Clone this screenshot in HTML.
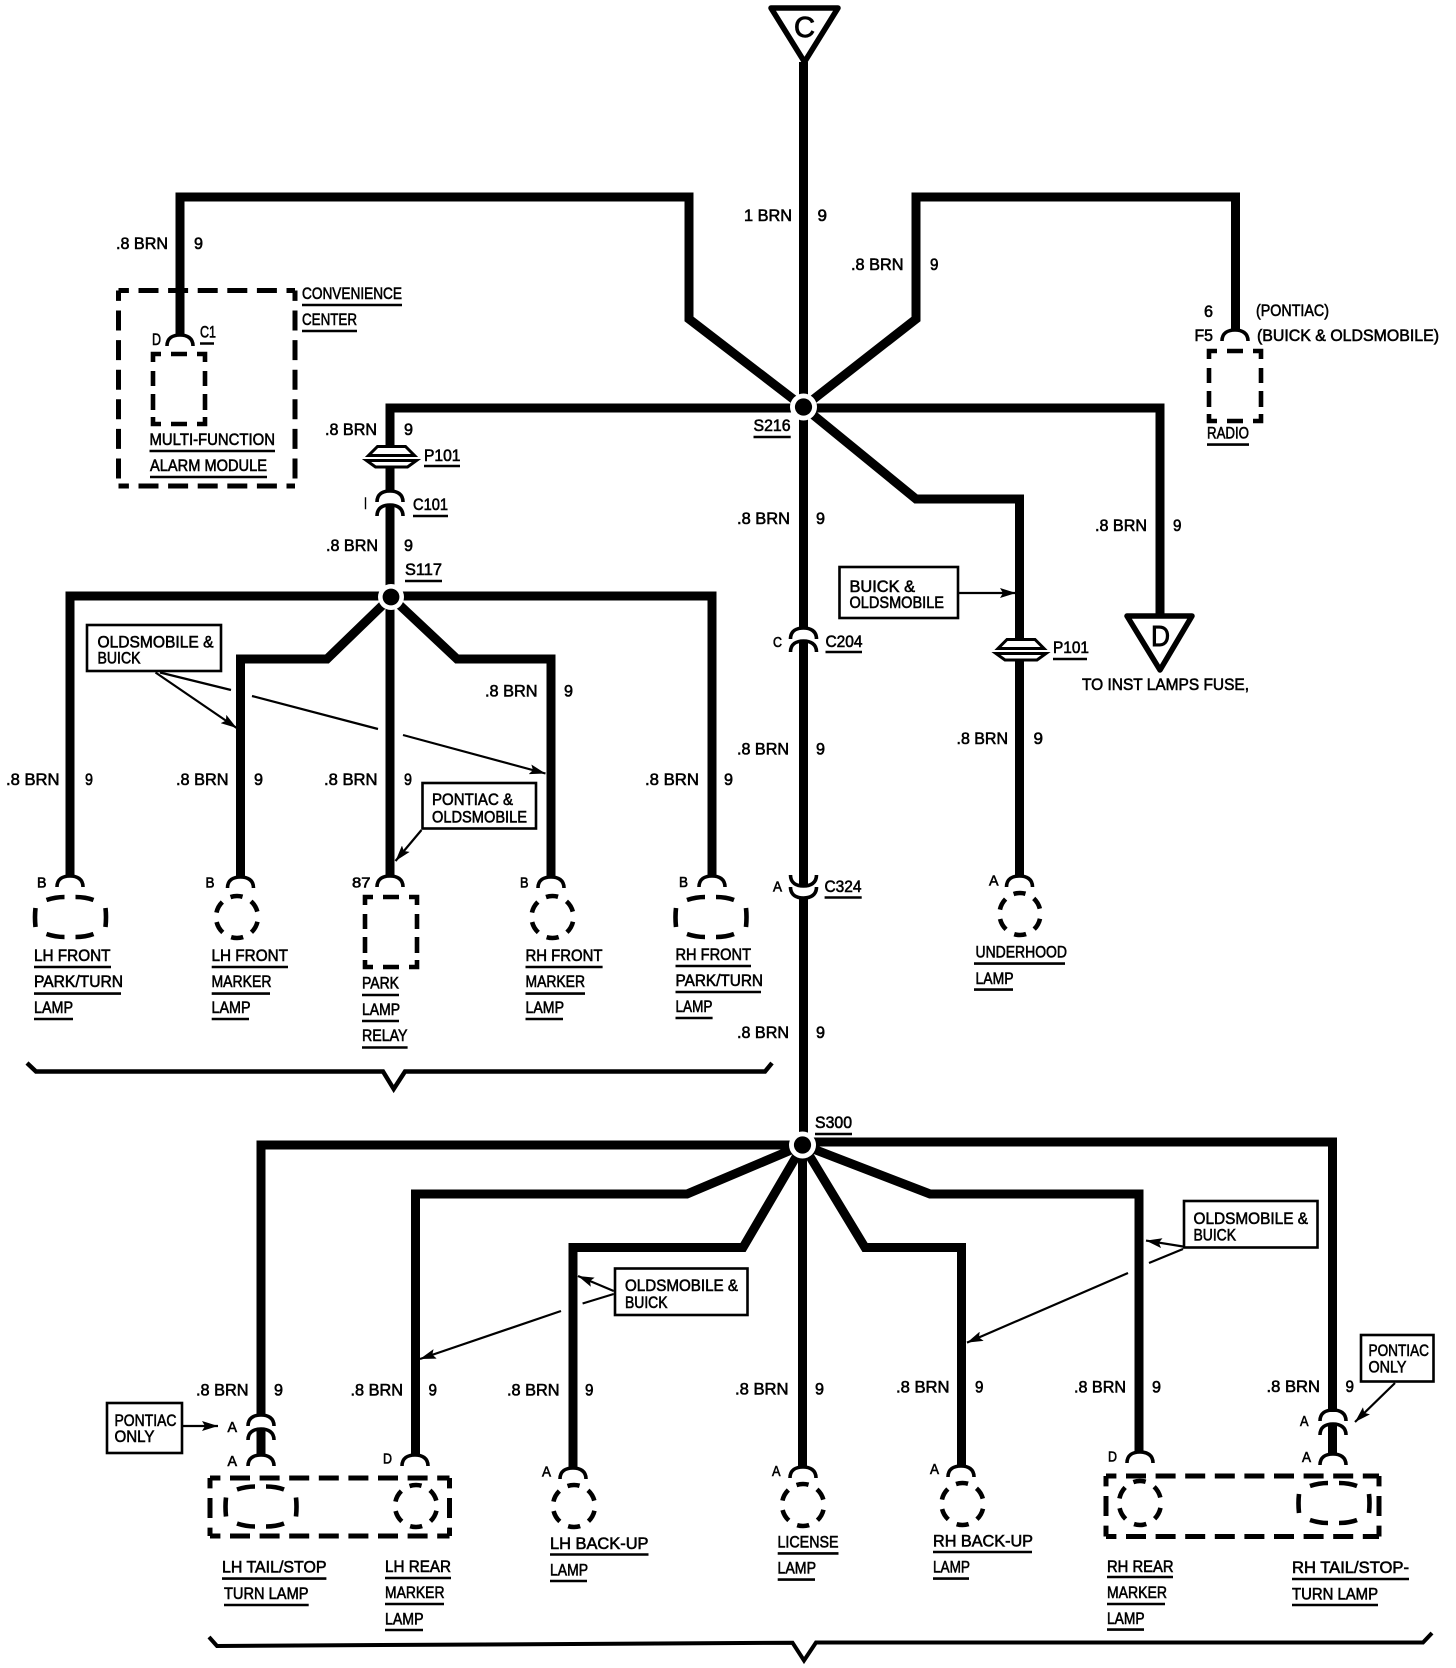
<!DOCTYPE html>
<html><head><meta charset="utf-8"><style>
html,body{margin:0;padding:0;background:#fff}
svg{display:block}
text{font-family:"Liberation Sans",sans-serif;font-size:17px;fill:#000;stroke:#000;stroke-width:.6}
.s{font-size:14.5px}
.big{font-size:29px;stroke-width:.9}
.w{fill:none;stroke:#000;stroke-width:9;stroke-linejoin:miter}
.u{fill:none;stroke:#000;stroke-width:2.6}
.d{fill:none;stroke:#000;stroke-width:5;stroke-dasharray:20 9.6;stroke-dashoffset:9.6}
.b{fill:#fff;stroke:#000;stroke-width:2.6}
.a{fill:none;stroke:#000;stroke-width:2.2}
.arc{fill:none;stroke:#000;stroke-width:3.6}
.el{fill:none;stroke:#000;stroke-width:4.6;stroke-dasharray:.56 .44}
.c{stroke-dashoffset:-.22}
</style></head><body>
<svg xmlns="http://www.w3.org/2000/svg" width="1456" height="1668" viewBox="0 0 1456 1668">
<defs>
<marker id="h" markerUnits="userSpaceOnUse" markerWidth="18" markerHeight="10" refX="16" refY="5" orient="auto"><path d="M0,0L16,5L0,10L3,5Z" fill="#000"/></marker>
<path id="arc" class="arc" d="M-13,11C-13,3 -7,0 0,0C7,0 13,3 13,11"/>
<path id="uarc" class="arc" d="M-13,0C-13,8 -7,11 0,11C7,11 13,8 13,0"/>
<path id="box" fill="none" stroke="#000" stroke-width="4.6" d="M0,8V0H8M18,0H34M44,0H52V8M52,17V32M52,40V56M52,63V70H44M34,70H18M8,70H0V63M0,56V40M0,32V17"/>
<path id="wide" fill="none" stroke="#000" stroke-width="4.6" d="M-24,-17Q-15,-20 -6,-20M5,-20Q15,-20 23,-17M-24,17Q-15,20 -6,20M5,20Q15,20 23,17M-35,-9Q-36,0 -35,10M35,-9Q36,0 35,10"/>
<g id="p101"><path d="M-14,1.5H14L23,10.5H-23Z" fill="#fff" stroke="#000" stroke-width="3"/><path d="M-25,15.5H25L16,22H-16Z" fill="#fff" stroke="#000" stroke-width="3"/></g>
</defs>

<!-- wires top -->
<path class="w" d="M803.5,62V407"/>
<path class="w" d="M180,336V197H689V319L803.5,407"/>
<path class="w" d="M803.5,407L916,319V197H1235.5V330"/>
<path class="w" d="M390,446V408H1160V615"/>
<path class="w" d="M803.5,407L916,499H1019.5V640"/>
<path class="w" d="M1019.5,660V877"/>
<path class="w" d="M803.5,407V628"/>
<path class="w" d="M803.5,642V887"/>
<path class="w" d="M803.5,897V1145"/>
<path class="w" d="M390,467V492"/>
<path class="w" d="M390,505V597"/>
<path class="w" d="M70,877V596H712V877"/>
<path class="w" d="M391,597L327,659H240.5V878"/>
<path class="w" d="M390,597V877"/>
<path class="w" d="M391,597L457,659H551V878"/>
<!-- wires bottom -->
<path class="w" d="M261,1416V1145H803"/>
<path class="w" d="M415.5,1456V1194H687L803,1145"/>
<path class="w" d="M573,1469V1247.5H743L803,1145"/>
<path class="w" d="M802.5,1145V1468"/>
<path class="w" d="M803,1145L865,1247.5H961.5V1467"/>
<path class="w" d="M803,1145L930,1194H1139V1453"/>
<path class="w" d="M803,1142H1332.5V1412"/>
<path class="w" d="M261,1430V1456"/>
<path class="w" d="M1332.5,1425V1455"/>

<!-- nodes -->
<circle cx="803.5" cy="407" r="13.5" fill="#fff"/><circle cx="803.5" cy="407" r="8.6" fill="#000"/>
<circle cx="391" cy="597" r="13" fill="#fff"/><circle cx="391" cy="597" r="8.4" fill="#000"/>
<circle cx="802.5" cy="1145" r="13.5" fill="#fff"/><circle cx="802.5" cy="1145" r="8.6" fill="#000"/>

<!-- triangles -->
<path d="M771,8H838L804.5,62Z" fill="#fff" stroke="#000" stroke-width="5.5" stroke-linejoin="round"/>
<path d="M1127,616H1192L1160,670Z" fill="#fff" stroke="#000" stroke-width="5.5" stroke-linejoin="round"/>
<text class="big" x="794" y="37" textLength="21" lengthAdjust="spacingAndGlyphs">C</text>
<text class="big" x="1151" y="646" textLength="19" lengthAdjust="spacingAndGlyphs">D</text>

<!-- dashed housings -->
<path class="d" d="M118.5,290.5H295M118.5,486H295M118.5,290.5V486M295,290.5V486"/>
<path class="d" d="M210,1478H449.5M210,1536H449.5M210,1478V1536M449.5,1478V1536"/>
<path class="d" d="M1106,1476H1379M1106,1536.5H1379M1106,1476V1536.5M1379,1476V1536.5"/>
<use href="#box" x="153" y="354"/>
<use href="#box" x="365" y="897"/>
<use href="#box" x="1209" y="351"/>

<!-- ovals -->
<use href="#wide" x="70.5" y="917"/>
<ellipse class="el c" pathLength="6" cx="237" cy="917" rx="21" ry="21"/>
<ellipse class="el c" pathLength="6" cx="552.5" cy="917" rx="21" ry="21"/>
<use href="#wide" x="711" y="917"/>
<ellipse class="el c" pathLength="6" cx="1020" cy="914" rx="20.5" ry="21"/>
<use href="#wide" x="261" y="1506.5"/>
<ellipse class="el c" pathLength="6" cx="416" cy="1506" rx="21" ry="21"/>
<ellipse class="el c" pathLength="6" cx="574" cy="1506" rx="21" ry="21"/>
<ellipse class="el c" pathLength="6" cx="803" cy="1505" rx="21" ry="21"/>
<ellipse class="el c" pathLength="6" cx="962.5" cy="1504" rx="21" ry="21"/>
<ellipse class="el c" pathLength="6" cx="1140" cy="1503" rx="21" ry="22"/>
<use href="#wide" x="1334" y="1503"/>

<!-- connector arcs -->
<use href="#arc" x="180" y="335"/>
<use href="#arc" x="1235" y="330"/>
<use href="#arc" x="390" y="491"/>
<use href="#arc" x="390" y="505"/>
<use href="#arc" x="803.5" y="628"/>
<use href="#arc" x="803.5" y="641"/>
<use href="#uarc" x="803.5" y="875"/>
<use href="#uarc" x="803.5" y="887"/>
<use href="#arc" x="70" y="876"/>
<use href="#arc" x="240.5" y="877"/>
<use href="#arc" x="390" y="876"/>
<use href="#arc" x="551" y="877"/>
<use href="#arc" x="712" y="876"/>
<use href="#arc" x="1019.5" y="876"/>
<use href="#arc" x="261" y="1415"/>
<use href="#arc" x="261" y="1429"/>
<use href="#arc" x="261" y="1455"/>
<use href="#arc" x="415" y="1455"/>
<use href="#arc" x="573" y="1468"/>
<use href="#arc" x="803" y="1467"/>
<use href="#arc" x="961" y="1466"/>
<use href="#arc" x="1140" y="1452"/>
<use href="#arc" x="1333" y="1410"/>
<use href="#arc" x="1333" y="1424"/>
<use href="#arc" x="1333" y="1454"/>

<use href="#p101" x="391.5" y="445"/>
<use href="#p101" x="1021" y="638"/>

<!-- braces -->
<path fill="none" stroke="#000" stroke-width="4.4" d="M27,1063L36,1071.5H383L393.7,1089L405,1071.5H765L772,1063"/>
<path fill="none" stroke="#000" stroke-width="4" d="M209,1637L217,1646L792.5,1642.7L804,1660.5L816,1642.5H1423L1432,1633"/>

<!-- callout boxes -->
<rect class="b" x="87" y="625" width="134" height="46"/>
<rect class="b" x="422.5" y="783" width="113.5" height="45.5"/>
<rect class="b" x="839.5" y="567" width="118.5" height="51"/>
<rect class="b" x="107" y="1403" width="75" height="50"/>
<rect class="b" x="615" y="1268.5" width="132.5" height="46.5"/>
<rect class="b" x="1184" y="1201" width="133.5" height="46.5"/>
<rect class="b" x="1361" y="1335" width="72.5" height="46.5"/>

<!-- arrows -->
<path class="a" marker-end="url(#h)" d="M155.5,672.5L236.7,728"/>
<path class="a" d="M160,672.5L231,690M252,696L378,729"/>
<path class="a" marker-end="url(#h)" d="M403,735L545.5,773.5"/>
<path class="a" marker-end="url(#h)" d="M421.5,830L395.5,861"/>
<path class="a" marker-end="url(#h)" d="M958,593H1016"/>
<path class="a" marker-end="url(#h)" d="M182,1426H218"/>
<path class="a" marker-end="url(#h)" d="M613.7,1291L578,1276"/>
<path class="a" d="M613.7,1294L582.6,1303.5"/>
<path class="a" marker-end="url(#h)" d="M561,1311L420,1359"/>
<path class="a" marker-end="url(#h)" d="M1183,1246.5L1146,1240.6"/>
<path class="a" d="M1183,1249L1149,1263"/>
<path class="a" marker-end="url(#h)" d="M1128,1273L967,1342.6"/>
<path class="a" marker-end="url(#h)" d="M1395,1383L1355,1422"/>

<!-- underlines -->
<path class="u" d="M302,305H402M302,331H357M200,343.5H214M149.5,451H275M150,477H267M424,466H460M413,516H448M1207,444.6H1249M753.5,437H790.7M405,581H442M34,967H111M34,993.6H121M34,1019H73M211.7,967H288M211.7,993.6H270M211.7,1019H249M362,995H399M362,1021H399M362,1047.5H407.6M525.5,967H602.6M525.5,993.6H585M525.5,1019H563M675.5,966H751M675.5,992H761M675.5,1018H712.6M825.5,652H862M1053,659H1087M824.6,897.5H861.7M974,963.6H1065M974,989.6H1013M815,1134H852M222,1578.6H326.4M224,1605H308.7M385,1578H451M385,1604H444M385,1630H423M550,1554.5H648.5M550,1581H587M777.7,1553.4H838.5M777.7,1579.6H815M933,1552H1032M933,1578.6H969M1107,1577H1173M1107,1604H1165M1107,1629.6H1144M1292,1579H1409M1292,1605H1378"/>

<!-- labels -->
<g>
<text x="116" y="249" textLength="52" lengthAdjust="spacingAndGlyphs">.8 BRN</text><text x="194" y="249" textLength="9" lengthAdjust="spacingAndGlyphs">9</text>
<text x="302" y="299" textLength="100" lengthAdjust="spacingAndGlyphs">CONVENIENCE</text>
<text x="302" y="325" textLength="55" lengthAdjust="spacingAndGlyphs">CENTER</text>
<text x="152" y="345" textLength="9" lengthAdjust="spacingAndGlyphs">D</text>
<text x="200" y="337.5" textLength="16" lengthAdjust="spacingAndGlyphs">C1</text>
<text x="149.5" y="445" textLength="125.5" lengthAdjust="spacingAndGlyphs">MULTI-FUNCTION</text>
<text x="150" y="471" textLength="117" lengthAdjust="spacingAndGlyphs">ALARM MODULE</text>
<text x="325" y="435" textLength="52" lengthAdjust="spacingAndGlyphs">.8 BRN</text><text x="404" y="435" textLength="9" lengthAdjust="spacingAndGlyphs">9</text>
<text x="424" y="461" textLength="36.5" lengthAdjust="spacingAndGlyphs">P101</text>
<text x="364" y="509" textLength="3" lengthAdjust="spacingAndGlyphs">I</text>
<text x="413" y="510" textLength="35" lengthAdjust="spacingAndGlyphs">C101</text>
<text x="326" y="551" textLength="52" lengthAdjust="spacingAndGlyphs">.8 BRN</text><text x="404" y="551" textLength="9" lengthAdjust="spacingAndGlyphs">9</text>

<text x="744" y="221" textLength="48" lengthAdjust="spacingAndGlyphs">1 BRN</text><text x="817.5" y="221" textLength="9.5" lengthAdjust="spacingAndGlyphs">9</text>
<text x="851" y="270" textLength="52.5" lengthAdjust="spacingAndGlyphs">.8 BRN</text><text x="930" y="270" textLength="8.5" lengthAdjust="spacingAndGlyphs">9</text>
<text x="1204" y="317" textLength="9" lengthAdjust="spacingAndGlyphs">6</text>
<text x="1194.5" y="341" textLength="18.5" lengthAdjust="spacingAndGlyphs">F5</text>
<text x="1256" y="316" textLength="73" lengthAdjust="spacingAndGlyphs">(PONTIAC)</text>
<text x="1257" y="341" textLength="182" lengthAdjust="spacingAndGlyphs">(BUICK &amp; OLDSMOBILE)</text>
<text x="1207" y="438.5" textLength="42" lengthAdjust="spacingAndGlyphs">RADIO</text>
<text x="753.5" y="431" textLength="37" lengthAdjust="spacingAndGlyphs">S216</text>
<text x="737" y="524" textLength="53" lengthAdjust="spacingAndGlyphs">.8 BRN</text><text x="816" y="524" textLength="9" lengthAdjust="spacingAndGlyphs">9</text>
<text x="1095" y="531" textLength="52" lengthAdjust="spacingAndGlyphs">.8 BRN</text><text x="1173" y="531" textLength="8.5" lengthAdjust="spacingAndGlyphs">9</text>

<text x="405" y="575" textLength="37" lengthAdjust="spacingAndGlyphs">S117</text>
<text x="97.5" y="647.5" textLength="116" lengthAdjust="spacingAndGlyphs">OLDSMOBILE &amp;</text>
<text x="97.5" y="663.5" textLength="43" lengthAdjust="spacingAndGlyphs">BUICK</text>
<text x="485" y="696.5" textLength="52.5" lengthAdjust="spacingAndGlyphs">.8 BRN</text><text x="564" y="696.5" textLength="9" lengthAdjust="spacingAndGlyphs">9</text>
<text x="6" y="785" textLength="53.5" lengthAdjust="spacingAndGlyphs">.8 BRN</text><text x="85" y="785" textLength="8" lengthAdjust="spacingAndGlyphs">9</text>
<text x="176" y="785" textLength="52.5" lengthAdjust="spacingAndGlyphs">.8 BRN</text><text x="254" y="785" textLength="9" lengthAdjust="spacingAndGlyphs">9</text>
<text x="324" y="785" textLength="53.5" lengthAdjust="spacingAndGlyphs">.8 BRN</text><text x="404" y="785" textLength="8" lengthAdjust="spacingAndGlyphs">9</text>
<text x="645" y="785" textLength="54" lengthAdjust="spacingAndGlyphs">.8 BRN</text><text x="724" y="785" textLength="9" lengthAdjust="spacingAndGlyphs">9</text>
<text x="432" y="805" textLength="81" lengthAdjust="spacingAndGlyphs">PONTIAC &amp;</text>
<text x="432" y="822.5" textLength="95" lengthAdjust="spacingAndGlyphs">OLDSMOBILE</text>
<text class="s" x="37" y="887.5" textLength="9.5" lengthAdjust="spacingAndGlyphs">B</text>
<text class="s" x="205.5" y="887.5" textLength="9" lengthAdjust="spacingAndGlyphs">B</text>
<text class="s" x="352" y="887.5" textLength="18.5" lengthAdjust="spacingAndGlyphs">87</text>
<text class="s" x="520" y="887.5" textLength="8.5" lengthAdjust="spacingAndGlyphs">B</text>
<text class="s" x="679" y="887" textLength="9" lengthAdjust="spacingAndGlyphs">B</text>
<text x="34" y="961" textLength="76.5" lengthAdjust="spacingAndGlyphs">LH FRONT</text>
<text x="34" y="987" textLength="89" lengthAdjust="spacingAndGlyphs">PARK/TURN</text>
<text x="34" y="1013" textLength="39" lengthAdjust="spacingAndGlyphs">LAMP</text>
<text x="211.5" y="961" textLength="76.5" lengthAdjust="spacingAndGlyphs">LH FRONT</text>
<text x="211.5" y="987" textLength="60" lengthAdjust="spacingAndGlyphs">MARKER</text>
<text x="211.5" y="1013" textLength="39" lengthAdjust="spacingAndGlyphs">LAMP</text>
<text x="362" y="988.5" textLength="37" lengthAdjust="spacingAndGlyphs">PARK</text>
<text x="362" y="1015" textLength="38" lengthAdjust="spacingAndGlyphs">LAMP</text>
<text x="362" y="1041" textLength="45.5" lengthAdjust="spacingAndGlyphs">RELAY</text>
<text x="525.5" y="961" textLength="77" lengthAdjust="spacingAndGlyphs">RH FRONT</text>
<text x="525.5" y="987" textLength="59.5" lengthAdjust="spacingAndGlyphs">MARKER</text>
<text x="525.5" y="1013" textLength="38.5" lengthAdjust="spacingAndGlyphs">LAMP</text>
<text x="675.5" y="960" textLength="75.5" lengthAdjust="spacingAndGlyphs">RH FRONT</text>
<text x="675.5" y="986" textLength="87.5" lengthAdjust="spacingAndGlyphs">PARK/TURN</text>
<text x="675.5" y="1012" textLength="37" lengthAdjust="spacingAndGlyphs">LAMP</text>

<text x="849.5" y="592" textLength="65.5" lengthAdjust="spacingAndGlyphs">BUICK &amp;</text>
<text x="849.5" y="608" textLength="94.5" lengthAdjust="spacingAndGlyphs">OLDSMOBILE</text>
<text class="s" x="773" y="647" textLength="9" lengthAdjust="spacingAndGlyphs">C</text>
<text x="825.5" y="647" textLength="37" lengthAdjust="spacingAndGlyphs">C204</text>
<text x="1053" y="653" textLength="36" lengthAdjust="spacingAndGlyphs">P101</text>
<text x="1082" y="690" textLength="167" lengthAdjust="spacingAndGlyphs">TO INST LAMPS FUSE,</text>
<text x="956.5" y="744" textLength="51.5" lengthAdjust="spacingAndGlyphs">.8 BRN</text><text x="1033.5" y="744" textLength="9.5" lengthAdjust="spacingAndGlyphs">9</text>
<text x="737" y="754.5" textLength="52" lengthAdjust="spacingAndGlyphs">.8 BRN</text><text x="816" y="754.5" textLength="9" lengthAdjust="spacingAndGlyphs">9</text>
<text class="s" x="773" y="891.5" textLength="9" lengthAdjust="spacingAndGlyphs">A</text>
<text x="824.5" y="892" textLength="37" lengthAdjust="spacingAndGlyphs">C324</text>
<text class="s" x="989" y="885.5" textLength="9.5" lengthAdjust="spacingAndGlyphs">A</text>
<text x="975.5" y="957.5" textLength="91.5" lengthAdjust="spacingAndGlyphs">UNDERHOOD</text>
<text x="975.5" y="984" textLength="38" lengthAdjust="spacingAndGlyphs">LAMP</text>
<text x="737" y="1038" textLength="52" lengthAdjust="spacingAndGlyphs">.8 BRN</text><text x="816" y="1038" textLength="9" lengthAdjust="spacingAndGlyphs">9</text>
<text x="815" y="1128" textLength="37" lengthAdjust="spacingAndGlyphs">S300</text>

<text x="196" y="1395.5" textLength="52.5" lengthAdjust="spacingAndGlyphs">.8 BRN</text><text x="274" y="1395.5" textLength="9" lengthAdjust="spacingAndGlyphs">9</text>
<text x="350.5" y="1395.5" textLength="52.5" lengthAdjust="spacingAndGlyphs">.8 BRN</text><text x="428.5" y="1395.5" textLength="8.5" lengthAdjust="spacingAndGlyphs">9</text>
<text x="507" y="1395.5" textLength="52.5" lengthAdjust="spacingAndGlyphs">.8 BRN</text><text x="585" y="1395.5" textLength="8.5" lengthAdjust="spacingAndGlyphs">9</text>
<text x="735" y="1394.5" textLength="53.5" lengthAdjust="spacingAndGlyphs">.8 BRN</text><text x="815" y="1394.5" textLength="9" lengthAdjust="spacingAndGlyphs">9</text>
<text x="896" y="1392.5" textLength="53.5" lengthAdjust="spacingAndGlyphs">.8 BRN</text><text x="975" y="1392.5" textLength="8.5" lengthAdjust="spacingAndGlyphs">9</text>
<text x="1074" y="1392.5" textLength="52" lengthAdjust="spacingAndGlyphs">.8 BRN</text><text x="1152" y="1392.5" textLength="9" lengthAdjust="spacingAndGlyphs">9</text>
<text x="1266.5" y="1392" textLength="53.5" lengthAdjust="spacingAndGlyphs">.8 BRN</text><text x="1345.5" y="1392" textLength="8.5" lengthAdjust="spacingAndGlyphs">9</text>

<text x="114.5" y="1426" textLength="62" lengthAdjust="spacingAndGlyphs">PONTIAC</text>
<text x="114.5" y="1442" textLength="40" lengthAdjust="spacingAndGlyphs">ONLY</text>
<text class="s" x="227.5" y="1432" textLength="9.5" lengthAdjust="spacingAndGlyphs">A</text>
<text class="s" x="227.5" y="1466" textLength="9.5" lengthAdjust="spacingAndGlyphs">A</text>
<text class="s" x="383" y="1463.5" textLength="9" lengthAdjust="spacingAndGlyphs">D</text>
<text class="s" x="542" y="1476.5" textLength="9" lengthAdjust="spacingAndGlyphs">A</text>
<text class="s" x="772" y="1476" textLength="8.5" lengthAdjust="spacingAndGlyphs">A</text>
<text class="s" x="930" y="1474" textLength="9" lengthAdjust="spacingAndGlyphs">A</text>
<text class="s" x="1108" y="1461.5" textLength="9" lengthAdjust="spacingAndGlyphs">D</text>
<text class="s" x="1300" y="1426" textLength="8.5" lengthAdjust="spacingAndGlyphs">A</text>
<text class="s" x="1302" y="1462" textLength="9" lengthAdjust="spacingAndGlyphs">A</text>

<text x="625" y="1291" textLength="113" lengthAdjust="spacingAndGlyphs">OLDSMOBILE &amp;</text>
<text x="625" y="1308" textLength="42.5" lengthAdjust="spacingAndGlyphs">BUICK</text>
<text x="1193.5" y="1224" textLength="114.5" lengthAdjust="spacingAndGlyphs">OLDSMOBILE &amp;</text>
<text x="1193.5" y="1240.5" textLength="42.5" lengthAdjust="spacingAndGlyphs">BUICK</text>
<text x="1368.5" y="1356" textLength="60.5" lengthAdjust="spacingAndGlyphs">PONTIAC</text>
<text x="1368.5" y="1372.5" textLength="38" lengthAdjust="spacingAndGlyphs">ONLY</text>

<text x="222" y="1572.5" textLength="104.5" lengthAdjust="spacingAndGlyphs">LH TAIL/STOP</text>
<text x="224" y="1599" textLength="84.5" lengthAdjust="spacingAndGlyphs">TURN LAMP</text>
<text x="385" y="1572" textLength="66" lengthAdjust="spacingAndGlyphs">LH REAR</text>
<text x="385" y="1598" textLength="59.5" lengthAdjust="spacingAndGlyphs">MARKER</text>
<text x="385" y="1624.5" textLength="38.5" lengthAdjust="spacingAndGlyphs">LAMP</text>
<text x="550" y="1549" textLength="98.5" lengthAdjust="spacingAndGlyphs">LH BACK-UP</text>
<text x="550" y="1575.5" textLength="38" lengthAdjust="spacingAndGlyphs">LAMP</text>
<text x="777.5" y="1547.5" textLength="61" lengthAdjust="spacingAndGlyphs">LICENSE</text>
<text x="777.5" y="1573.5" textLength="38.5" lengthAdjust="spacingAndGlyphs">LAMP</text>
<text x="933" y="1546.5" textLength="100" lengthAdjust="spacingAndGlyphs">RH BACK-UP</text>
<text x="933" y="1572.5" textLength="37" lengthAdjust="spacingAndGlyphs">LAMP</text>
<text x="1107" y="1572" textLength="66.5" lengthAdjust="spacingAndGlyphs">RH REAR</text>
<text x="1107" y="1598" textLength="60" lengthAdjust="spacingAndGlyphs">MARKER</text>
<text x="1107" y="1624" textLength="37.5" lengthAdjust="spacingAndGlyphs">LAMP</text>
<text x="1292" y="1573" textLength="117" lengthAdjust="spacingAndGlyphs">RH TAIL/STOP-</text>
<text x="1292" y="1599.5" textLength="86" lengthAdjust="spacingAndGlyphs">TURN LAMP</text>
</g>
</svg>
</body></html>
